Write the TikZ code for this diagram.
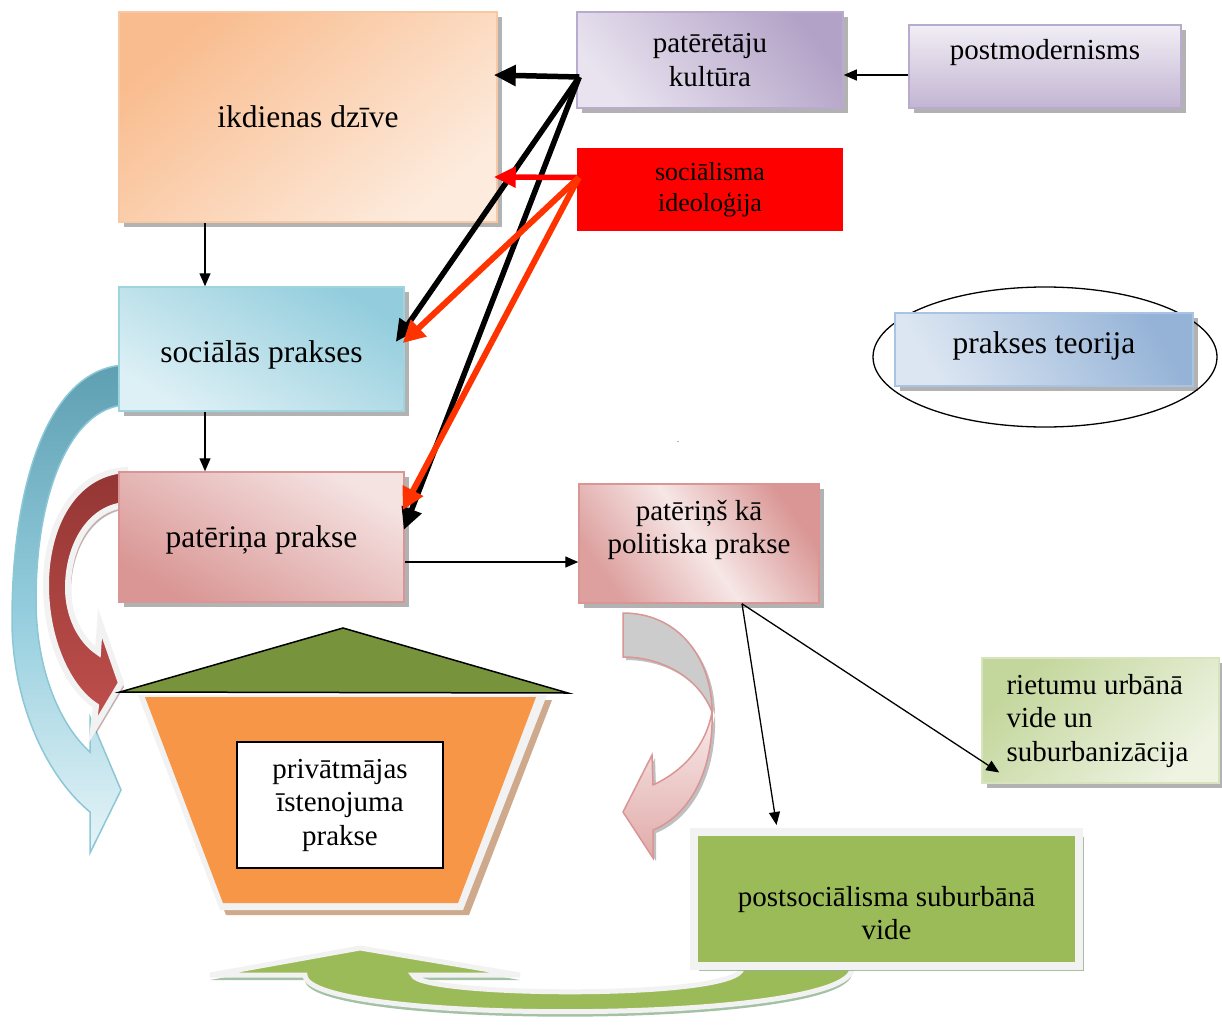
\documentclass[tikz,border=0pt]{standalone}
\usepackage{fontspec}
\setmainfont{Liberation Serif}
\usetikzlibrary{arrows.meta,shadows,shapes.geometric}

\definecolor{roofgreen}{HTML}{77933C}
\definecolor{houseorange}{HTML}{F79646}
\definecolor{housetan}{HTML}{CFA98C}
\definecolor{rimgray}{HTML}{F2F2F2}
\definecolor{leafgreen}{HTML}{9BBB59}
\definecolor{redline}{HTML}{FF3300}
\definecolor{peachD}{HTML}{F9BC8E}
\definecolor{peachL}{HTML}{FDEBDD}
\definecolor{peachB}{HTML}{F7C8A2}
\definecolor{lavD}{HTML}{B3A2C7}
\definecolor{lavL}{HTML}{E8E3EF}
\definecolor{lavB}{HTML}{B9ABCD}
\definecolor{skyD}{HTML}{93CDDD}
\definecolor{skyL}{HTML}{DDF0F5}
\definecolor{skyB}{HTML}{9ED3E0}
\definecolor{roseD}{HTML}{D99694}
\definecolor{roseL}{HTML}{F2DCDB}
\definecolor{steelD}{HTML}{95B3D7}
\definecolor{steelL}{HTML}{DCE6F2}
\definecolor{steelB}{HTML}{A9C3E3}
\definecolor{oliveD}{HTML}{C3D69B}
\definecolor{oliveL}{HTML}{EEF3E2}
\definecolor{oliveB}{HTML}{D7E4BD}
\definecolor{tealD}{HTML}{5E9FB2}
\definecolor{tealEdge}{HTML}{8CC7D6}
\definecolor{brickD}{HTML}{943634}
\definecolor{brickL}{HTML}{C0504D}

\tikzset{
  t32/.style={font=\fontsize{31.5}{36}\selectfont, align=center},
  t29/.style={font=\fontsize{29}{33.5}\selectfont, align=center},
  t26/.style={font=\fontsize{26}{31}\selectfont, align=center},
  pbox/.style={rectangle, inner sep=0pt, line width=1.5pt,
    drop shadow={shadow xshift=5pt, shadow yshift=-5pt, fill=black, opacity=0.3}},
  thickarr/.style={line width=5.5pt, -{Triangle[length=22pt,width=20pt]}},
  redarr/.style={line width=5.5pt, draw=red, -{Triangle[length=22pt,width=20pt]}},
  orangearr/.style={line width=6pt, draw=redline, -{Triangle[length=22pt,width=22pt]}},
  thinarr/.style={line width=1.3pt, -{Triangle[length=13pt,width=11pt]}},
}

\begin{document}
\begin{tikzpicture}[x=1pt,y=-1pt]
\useasboundingbox (0,0) rectangle (1222,1025);

% curved block arrows on the left
\fill[draw=tealEdge, line width=1.5pt, top color=tealD, bottom color=skyL!70!white, middle color=skyD, shading angle=0]
  (125,365) .. controls (50,368) and (12,480) .. (12,620)
  .. controls (12,700) and (45,775) .. (90,812) -- (90,853) -- (121,790) -- (90,717) -- (90,752)
  .. controls (60,725) and (36,670) .. (36,600)
  .. controls (36,490) and (72,408) .. (125,405) -- cycle;

\fill[draw=rimgray, line width=6pt, top color=brickD, bottom color=brickL,
      drop shadow={shadow xshift=3pt, shadow yshift=-4pt, fill=brickD!40!gray, opacity=0.5}]
  (125,470) .. controls (72,474) and (46,528) .. (46,585)
  .. controls (46,640) and (68,688) .. (96,706) -- (93,730) -- (121,683) -- (100,623) -- (98,652)
  .. controls (80,640) and (68,615) .. (68,588)
  .. controls (68,545) and (90,508) .. (125,505) -- cycle;

% right curved arrow
\fill[draw=roseD, line width=1.5pt, fill=black!20,
      drop shadow={shadow xshift=3pt, shadow yshift=-3pt, fill=black, opacity=0.25}]
  (623,613) .. controls (680,613) and (712,660) .. (712,712)
  .. controls (700,680) and (665,657) .. (623,657) -- cycle;
\fill[draw=roseD, line width=1.5pt, top color=roseL!60!white, bottom color=roseD!80!white,
      drop shadow={shadow xshift=3pt, shadow yshift=-3pt, fill=black, opacity=0.25}]
  (712,712) .. controls (714,770) and (690,815) .. (653,830) -- (653,858) -- (623,812)
  -- (652,755) -- (653,785) .. controls (685,770) and (706,745) .. (712,712) -- cycle;

% bottom green arrow
\fill[draw=rimgray, line width=5pt, fill=leafgreen,
      drop shadow={shadow xshift=0pt, shadow yshift=-5pt, fill=green!20!gray, opacity=0.6}]
  (413,975) .. controls (420,997) and (740,1000) .. (742,968) -- (852,968)
  .. controls (852,1025) and (305,1025) .. (305,975) -- (210,975) -- (360,948) -- (520,975) -- cycle;

% house
\fill[housetan] (143,700) -- (552,700) -- (469,915) -- (226,915) -- cycle;
\fill[rimgray] (138,695) -- (547,695) -- (463,910) -- (220,910) -- cycle;
\fill[houseorange] (145,697) -- (536,697) -- (458,903) -- (223,903) -- cycle;
\filldraw[fill=roofgreen, draw=black, line width=1.5pt] (120,692) -- (343,628) -- (568,693) -- cycle;
\node[draw=black, fill=white, line width=1.5pt, minimum width=206, minimum height=126, inner sep=0pt,
      font=\fontsize{29}{33.5}\selectfont, align=center] (house) at (340,805)
  {privātmājas\\īstenojuma\\prakse};

% ellipse round the theory box
\node[ellipse, draw=black, line width=1.3pt, minimum width=344, minimum height=140] (ring) at (1045,357) {};

% boxes
\node[pbox, draw=peachB, top color=peachD, bottom color=peachL, shading angle=40,
      minimum width=378, minimum height=210, t32] (ikd) at (308,117) {ikdienas dzīve};
\node[pbox, draw=lavB, top color=lavD, bottom color=lavL, shading angle=-50,
      minimum width=266, minimum height=96, t29] (pk) at (710,60) {patērētāju\\kultūra};
\node[pbox, draw=lavB, top color=lavL!60!white, bottom color=lavD!80!white,
      minimum width=272, minimum height=83] (pm) at (1045,66.5) {};
\node[t29] (pmT) at (1045,53) {postmodernisms};
\node[rectangle, inner sep=0pt, fill=red, minimum width=266, minimum height=83, t26] (si) at (710,189.5) {sociālisma\\ideoloģija};
\node[pbox, draw=skyB, top color=skyD, bottom color=skyL, shading angle=-30,
      minimum width=285, minimum height=124] (sp) at (261.5,349) {};
\node[t32] (spT) at (261.5,355) {sociālās prakses};
\node[pbox, draw=roseD, top color=roseL!80!white, bottom color=roseD, shading angle=-30,
      minimum width=285, minimum height=130] (pp) at (261.5,537) {};
\node[t32] (ppT) at (261.5,540) {patēriņa prakse};
\node[pbox, draw=roseD, top color=roseD, bottom color=roseD!90!white, middle color=roseL!70!white, shading angle=-55,
      minimum width=240, minimum height=119] (pol) at (699,543.5) {};
\node[t29] (polT) at (699,530) {patēriņš kā\\politiska prakse};
\node[pbox, draw=steelB, top color=steelD, bottom color=steelL, shading angle=-60,
      minimum width=298, minimum height=73] (pt) at (1044,349.5) {};
\node[t32] (ptT) at (1044,346) {prakses teorija};
\node[pbox, draw=oliveB, top color=oliveD, bottom color=oliveL, shading angle=45,
      minimum width=237, minimum height=125] (ru) at (1100.5,720.5) {};
\node[t29, align=left, anchor=west] (ruT) at (1003,721) {rietumu urbānā\\vide un\\suburbanizācija};
\node[rectangle, inner sep=0pt, draw=rimgray, line width=8pt, fill=leafgreen, minimum width=385, minimum height=134,
      drop shadow={shadow xshift=5pt, shadow yshift=-5pt, fill=green!15!gray, opacity=0.6}] (ps) at (886.5,899) {};
\node[t29] (psT) at (886.5,913) {postsociālisma suburbānā\\vide};

\node[inner sep=0pt, font=\fontsize{8}{8}\selectfont] (dot) at (678,442) {.};

% thin connectors
\draw[thinarr] ([xshift=-103pt]ikd.south) -- ([xshift=-56.5pt]sp.north);
\draw[thinarr] ([xshift=-56.5pt]sp.south) -- ([xshift=-56.5pt]pp.north);
\draw[thinarr] ([shift={(0,25)}]pp.east) -- ([shift={(0,18.5)}]pol.west);
\draw[thinarr] ([shift={(0,8.5)}]pm.west) -- ([shift={(0,15)}]pk.east);
\draw[thinarr] ([shift={(43,0)}]pol.south) -- ([shift={(18,52)}]ru.west);
\draw[thinarr] ([shift={(43,0)}]pol.south) -- ([shift={(-110,-3)}]ps.north);

% thick connectors from the culture box
\draw[thickarr] ([shift={(3,17)}]pk.west) -- ([shift={(-4,-42)}]ikd.east);
\draw[thickarr] ([shift={(3,17)}]pk.west) -- ([shift={(-9,-7)}]sp.east);
\draw[thickarr] ([shift={(3,17)}]pk.west) -- ([shift={(-1,-7)}]pp.east);

% red connectors from the ideology box
\draw[redarr] ([shift={(2,-12)}]si.west) -- ([shift={(-4,60)}]ikd.east);
\draw[orangearr] ([shift={(2,-12)}]si.west) -- ([shift={(-2,-6)}]sp.east);
\draw[orangearr] ([shift={(2,-12)}]si.west) -- ([shift={(-2,-27)}]pp.east);
\end{tikzpicture}
\end{document}
